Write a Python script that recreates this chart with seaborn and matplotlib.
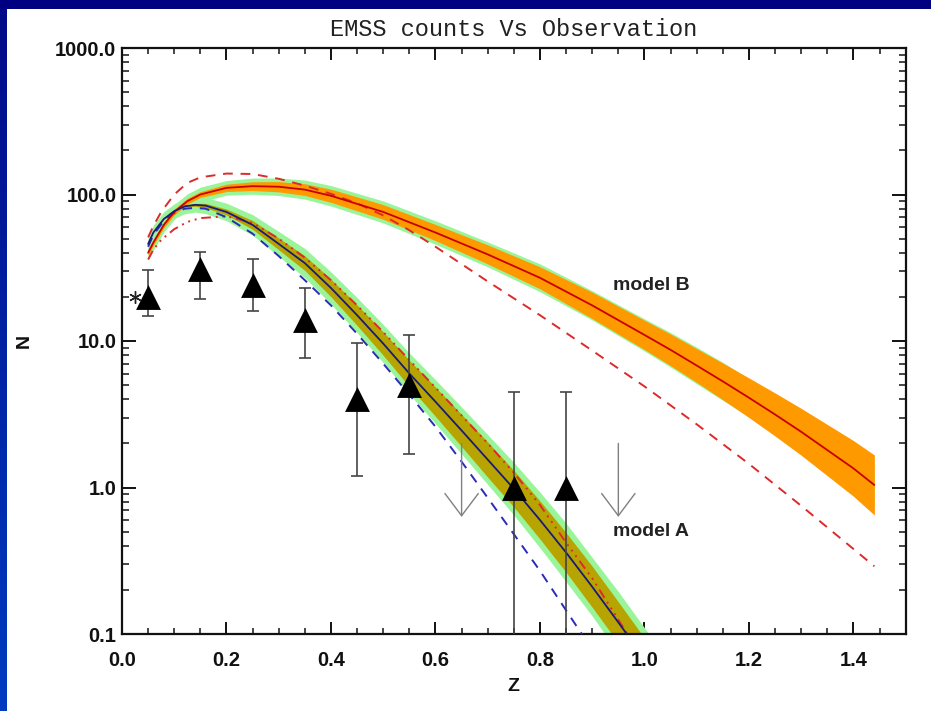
import numpy as np
import pandas as pd
import matplotlib
matplotlib.use("Agg")
import matplotlib.pyplot as plt
import seaborn as sns
from matplotlib.patches import Rectangle
from matplotlib.colors import LinearSegmentedColormap
from matplotlib.ticker import FixedLocator, FixedFormatter, MultipleLocator, LogLocator, NullFormatter

# ---------------- data ----------------
# model A (lower model) centre line and band half-widths (dex)
zA = [0.05, 0.06, 0.08, 0.10, 0.12, 0.14, 0.16, 0.20, 0.25, 0.30, 0.35, 0.40, 0.45,
      0.50, 0.55, 0.60, 0.65, 0.70, 0.75, 0.80, 0.85, 0.90, 0.95, 1.00, 1.05]
nA = [46, 55, 68, 77, 83, 85, 84, 76, 62, 46, 34, 23, 15,
      9.6, 6.0, 3.85, 2.45, 1.55, 0.98, 0.60, 0.36, 0.21, 0.12, 0.068, 0.038]
A_green_hw = [0.05, 0.05, 0.05, 0.05, 0.05, 0.05, 0.055, 0.06, 0.07, 0.085, 0.10, 0.11, 0.12,
              0.13, 0.14, 0.15, 0.16, 0.17, 0.18, 0.19, 0.20, 0.20, 0.21, 0.21, 0.21]
A_olive_hw = [0.0, 0.0, 0.0, 0.0, 0.005, 0.01, 0.015, 0.02, 0.03, 0.04, 0.05, 0.06, 0.07,
              0.08, 0.09, 0.10, 0.11, 0.12, 0.125, 0.13, 0.135, 0.14, 0.14, 0.14, 0.14]

# model B (upper model) centre line and band half-widths (dex)
zB = [0.05, 0.06, 0.08, 0.10, 0.125, 0.15, 0.20, 0.25, 0.30, 0.35, 0.40, 0.50,
      0.60, 0.70, 0.80, 0.90, 1.00, 1.05, 1.10, 1.15, 1.20, 1.25, 1.30, 1.35, 1.40, 1.44]
nB = [40, 47, 62, 76, 90, 100, 111, 114, 113, 108, 98, 76,
      55, 39, 27, 17.5, 11, 8.7, 6.8, 5.3, 4.1, 3.15, 2.4, 1.8, 1.35, 1.04]
B_green_hw = [0.05, 0.05, 0.05, 0.05, 0.05, 0.05, 0.05, 0.055, 0.06, 0.065, 0.07, 0.075,
              0.08, 0.085, 0.095, 0.10, 0.11, 0.118, 0.125, 0.13, 0.13, 0.13, 0.13, 0.13,
              0.13, 0.13]
B_orange_hw = [0.02, 0.02, 0.02, 0.02, 0.02, 0.02, 0.025, 0.03, 0.035, 0.04, 0.045, 0.05,
               0.055, 0.065, 0.075, 0.09, 0.10, 0.108, 0.115, 0.125, 0.135, 0.147, 0.16,
               0.175, 0.19, 0.205]

# red dashed curve
z_rdash = [0.05, 0.06, 0.075, 0.10, 0.125, 0.15, 0.20, 0.25, 0.30, 0.35, 0.40, 0.45,
           0.50, 0.55, 0.60, 0.70, 0.80, 0.90, 1.00, 1.10, 1.20, 1.30, 1.44]
n_rdash = [51, 61, 76, 100, 120, 131, 139, 138, 128, 115, 101, 87,
           72, 57, 44, 25.5, 15, 8.6, 4.9, 2.7, 1.45, 0.75, 0.29]

# red dash-dot curve
z_rdd = [0.05, 0.06, 0.075, 0.10, 0.125, 0.15, 0.20, 0.25, 0.30, 0.35, 0.40, 0.45,
         0.50, 0.55, 0.60, 0.65, 0.70, 0.75, 0.80, 0.85, 0.90, 0.95, 1.00]
n_rdd = [36, 42, 49, 58, 65, 69, 71, 64, 50, 37, 26, 17.5,
         11.5, 7.4, 4.8, 3.1, 2.0, 1.26, 0.76, 0.42, 0.24, 0.125, 0.065]

# blue dashed curve
z_bdash = [0.05, 0.06, 0.08, 0.10, 0.12, 0.14, 0.16, 0.20, 0.25, 0.30, 0.35, 0.40,
           0.45, 0.50, 0.55, 0.60, 0.65, 0.70, 0.75, 0.80, 0.85, 0.90]
n_bdash = [44, 53, 66, 75, 80, 81, 80, 70, 54, 38, 26, 17.5,
           11.2, 7.0, 4.3, 2.6, 1.5, 0.85, 0.48, 0.27, 0.145, 0.078]

# observations
obs_z = [0.05, 0.15, 0.25, 0.35, 0.45, 0.55, 0.75, 0.85]
obs_n = [20, 31, 24, 14, 4.0, 5.0, 1.0, 1.0]
obs_hi = [30.5, 40.5, 36.5, 23, 9.7, 11, 4.5, 4.5]
obs_lo = [14.8, 19.5, 16, 7.7, 1.2, 1.7, 0.05, 0.05]

# extra point (asterisk)
ast_z = [0.025]
ast_n = [20]

# upper limits
ul_z = [0.65, 0.95]
ul_top = [2.0, 2.0]
ul_tip = [0.63, 0.63]

# labels
labels_txt = ["model B", "model A"]
labels_z = [0.94, 0.94]
labels_n = [24, 0.50]

xticks_major = [0.0, 0.2, 0.4, 0.6, 0.8, 1.0, 1.2, 1.4]
xtick_labels = ["0.0", "0.2", "0.4", "0.6", "0.8", "1.0", "1.2", "1.4"]
yticks_major = [0.1, 1.0, 10.0, 100.0, 1000.0]
ytick_labels = ["0.1", "1.0", "10.0", "100.0", "1000.0"]

# ---------------- styling ----------------
sns.set_theme(style="ticks")
plt.rcParams["font.family"] = ["Liberation Sans", "DejaVu Sans"]

W, H = 931, 711
fig = plt.figure(figsize=(W / 100, H / 100), dpi=100, facecolor="white")

# blue slide frame
fig.patches.append(Rectangle((0, 1 - 9 / H), 1, 9 / H, transform=fig.transFigure,
                             facecolor="#000080", edgecolor="none", zorder=0))
gax = fig.add_axes([0, 0, 7 / W, 1 - 9 / H])
grad = np.linspace(0, 1, 256).reshape(-1, 1)
gax.imshow(grad, aspect="auto",
           cmap=LinearSegmentedColormap.from_list("bl", ["#000a88", "#003cc0"]))
gax.axis("off")

ax = fig.add_axes([122 / W, (H - 634) / H, (905.7 - 122) / W, (634 - 48) / H])
ax.set_facecolor("white")
ax.set_yscale("log")
ax.set_xlim(0, 1.5)
ax.set_ylim(0.1, 1000)

GREEN = "#9af59a"
ORANGE = "#ff9900"
OLIVE = "#b8a400"

lA = np.log10(nA)
lB = np.log10(nB)
# bands
ax.fill_between(zA, 10 ** (lA - np.array(A_green_hw)), 10 ** (lA + np.array(A_green_hw)),
                color=GREEN, lw=0, zorder=1)
ax.fill_between(zB, 10 ** (lB - np.array(B_green_hw)), 10 ** (lB + np.array(B_green_hw)),
                color=GREEN, lw=0, zorder=1)
ax.fill_between(zB, 10 ** (lB - np.array(B_orange_hw)), 10 ** (lB + np.array(B_orange_hw)),
                color=ORANGE, lw=0, zorder=2)
ax.fill_between(zA, 10 ** (lA - np.array(A_olive_hw)), 10 ** (lA + np.array(A_olive_hw)),
                color=OLIVE, lw=0, zorder=2)

# curves
sns.lineplot(x=z_rdash, y=n_rdash, ax=ax, color="#dd2a2a", lw=1.4,
             linestyle=(0, (5, 4)), zorder=3)
sns.lineplot(x=z_rdd, y=n_rdd, ax=ax, color="#dd2a2a", lw=1.4,
             linestyle=(0, (5, 2.5, 1, 2.5, 1, 2.5, 1, 2.5)), zorder=3)
sns.lineplot(x=z_bdash, y=n_bdash, ax=ax, color="#2b2bb8", lw=1.4,
             linestyle=(0, (5, 4)), zorder=3)
sns.lineplot(x=zB, y=nB, ax=ax, color="#c80000", lw=1.3, zorder=4)
sns.lineplot(x=zA, y=nA, ax=ax, color="#1a1a78", lw=1.3, zorder=4)

# observations
ax.errorbar(obs_z, obs_n,
            yerr=[np.array(obs_n) - np.array(obs_lo), np.array(obs_hi) - np.array(obs_n)],
            fmt="none", ecolor="#444444", elinewidth=1.2, capsize=4, capthick=1.2, zorder=5)
sns.scatterplot(x=obs_z, y=obs_n, ax=ax, marker="^", s=320, color="black",
                linewidth=0, zorder=6)
ax.plot(ast_z, ast_n, linestyle="none", marker=(6, 2, 0), ms=9, mew=1.0,
        color="#222222", zorder=6)

for z, top, tip in zip(ul_z, ul_top, ul_tip):
    ax.annotate("", xy=(z, tip), xytext=(z, top),
                arrowprops=dict(arrowstyle="->,head_length=0.8,head_width=0.6",
                                color="#808080", lw=1.0, shrinkA=0, shrinkB=0,
                                mutation_scale=20), zorder=5)

for t, z, n in zip(labels_txt, labels_z, labels_n):
    ax.text(z, n, t, ha="left", va="center", fontsize=14, fontweight="bold",
            color="#222222", zorder=7)

# axes / ticks
for s in ax.spines.values():
    s.set_linewidth(1.6)
    s.set_color("#111111")
    s.set_visible(True)

ax.xaxis.set_major_locator(FixedLocator(xticks_major))
ax.xaxis.set_major_formatter(FixedFormatter(xtick_labels))
ax.xaxis.set_minor_locator(MultipleLocator(0.05))
ax.yaxis.set_major_locator(FixedLocator(yticks_major))
ax.yaxis.set_major_formatter(FixedFormatter(ytick_labels))
ax.yaxis.set_minor_locator(LogLocator(base=10, subs=np.arange(2, 10), numticks=20))
ax.yaxis.set_minor_formatter(NullFormatter())

ax.tick_params(axis="x", which="major", direction="in", length=8.5, width=1.4,
               top=True, bottom=True, pad=12, labelsize=14.5, colors="#111111")
ax.tick_params(axis="x", which="minor", direction="in", length=4.3, width=1.2,
               top=True, bottom=True)
ax.tick_params(axis="y", which="major", direction="in", length=10, width=1.4,
               left=True, right=True, pad=4, labelsize=14.5, colors="#111111")
ax.tick_params(axis="y", which="minor", direction="in", length=5, width=1.2,
               left=True, right=True)
for lab in ax.get_xticklabels() + ax.get_yticklabels():
    lab.set_fontweight("bold")

ax.set_xlabel("Z", fontsize=14, fontweight="bold", labelpad=6, color="#111111")
ax.set_ylabel("N", fontsize=14, fontweight="bold", labelpad=16, color="#111111")
ax.set_title("EMSS counts Vs Observation", fontsize=17, family="Liberation Mono",
             pad=9, color="#222222")

fig.savefig("out.png", dpi=100, facecolor="white")
